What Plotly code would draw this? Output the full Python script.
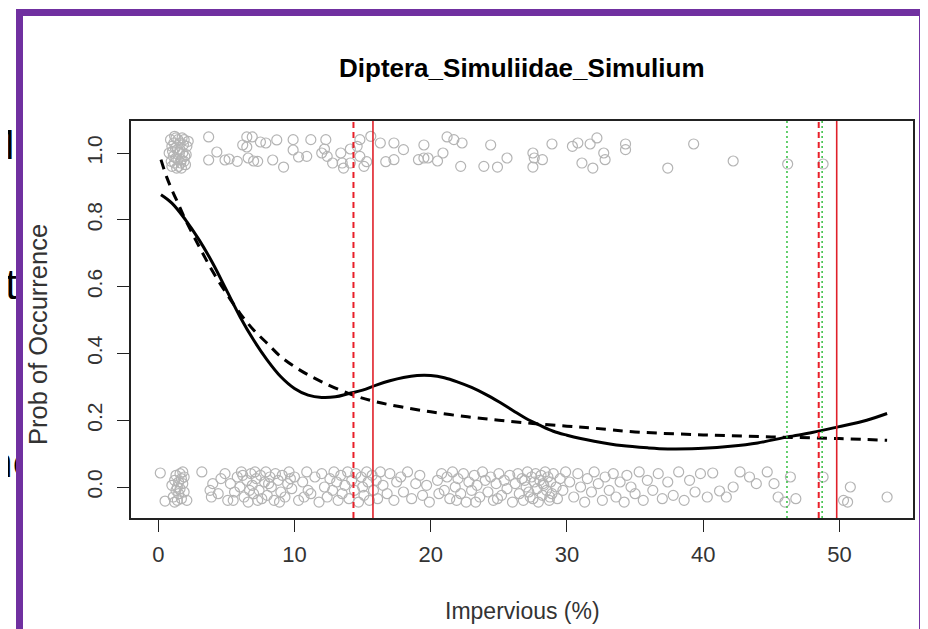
import plotly.graph_objects as go

# The page body has an 8px margin, so the figure is laid out in page pixels minus 8.
OFF = 8
W, H = 928 - OFF, 629 - OFF

# ---------------- data ----------------
title_text = "Diptera_Simuliidae_Simulium"
x_label = "Impervious (%)"
y_label = "Prob of Occurrence"
x_ticks = [0, 10, 20, 30, 40, 50]
y_ticks = [0.0, 0.2, 0.4, 0.6, 0.8, 1.0]

# presence observations (jittered around 1)
pres_x = [0.9, 1.0, 1.1, 1.2, 1.3, 1.4, 1.5, 1.6, 1.7, 1.8, 1.9, 2.0, 2.1, 0.95, 1.15, 1.35, 1.55,
          1.75, 1.95, 1.05, 1.25, 1.45, 1.65, 1.85, 2.05, 1.0, 1.3, 1.6, 1.9, 0.8, 2.2, 1.2, 1.7, 1.45,
          3.7, 4.3, 3.7, 4.9, 5.2, 6.2, 6.5, 6.9, 6.5, 6.6, 7.0, 7.3, 7.5, 7.9, 8.4, 8.7, 9.2, 9.9,
          9.9, 10.3, 10.9, 11.2, 12.3, 12.2, 12.4, 12.8, 13.4, 13.5, 14.1, 14.1, 14.8, 14.8, 15.3,
          15.6, 16.3, 16.7, 17.3, 17.3, 18.0, 19.1, 19.5, 19.5, 19.8, 20.5, 20.9, 21.2, 21.7, 22.3,
          22.2, 23.9, 24.4, 24.9, 25.6, 13.6, 14.6, 15.1, 12.0, 5.8,
          27.5, 27.6, 28.2, 27.5, 28.9, 30.4, 30.8, 31.7, 32.2, 32.7, 32.8, 31.1, 31.9, 34.3, 34.3,
          39.3, 37.4, 42.2, 46.2, 48.8]
pres_y = [1.04, 1.02, 0.99, 0.97, 1.045, 1.01, 0.96, 1.03, 0.98, 1.0, 1.04, 0.965, 1.02, 0.975, 1.03,
          0.955, 1.0, 1.045, 0.99, 1.005, 1.015, 1.04, 0.97, 1.025, 0.995, 0.96, 0.985, 1.01, 0.975,
          1.0, 1.035, 1.05, 0.955, 0.98,
          1.048, 1.003, 0.979, 0.979, 0.982, 1.024, 1.048, 1.048, 1.018, 0.985, 0.976, 0.975, 1.033,
          1.03, 0.979, 1.039, 0.958, 1.04, 1.009, 0.988, 0.99, 1.04, 1.04, 1.012, 0.99, 0.97, 1.0,
          0.97, 1.012, 0.97, 1.04, 0.99, 0.974, 1.05, 1.03, 0.974, 1.03, 0.98, 1.01, 0.98, 1.024,
          0.985, 0.985, 0.976, 1.0, 1.048, 1.04, 1.03, 0.96, 0.96, 1.024, 0.958, 0.985, 0.955, 1.02,
          0.96, 1.0, 0.975,
          1.0, 0.985, 0.98, 0.958, 1.027, 1.02, 1.03, 1.027, 1.045, 1.0, 0.98, 0.97, 0.955, 1.027,
          1.01, 1.027, 0.955, 0.976, 0.967, 0.967]

# absence observations (jittered around 0)
abs_x = [0.15, 0.5, 1.1, 1.2, 1.3, 1.3, 1.4, 1.4, 1.5, 1.5, 1.6, 1.6, 1.7, 1.7, 1.8, 1.8, 1.9, 1.2,
         1.9, 2.1, 1.0,
         3.2, 3.8, 3.9, 4.6, 4.4, 5.1, 5.3, 5.8, 5.6, 6.0, 6.2, 6.3, 6.5, 6.6, 6.8, 6.9, 7.0, 7.1,
         7.2, 7.4, 7.5, 7.6, 7.8, 7.9, 8.0, 8.2, 8.3, 8.5, 8.6, 8.8, 9.0, 9.1, 9.3, 9.5, 9.6, 9.8,
         10.0, 4.0, 4.9, 5.5, 6.1, 6.7, 7.3, 8.1, 8.9, 9.7,
         10.3, 10.6, 10.9, 11.2, 11.5, 11.8, 12.0, 12.2, 12.4, 12.6, 12.8, 12.9, 13.1, 13.2, 13.4,
         13.5, 13.7, 13.9, 14.0, 11.0, 10.7,
         14.2, 14.4, 14.5, 14.7, 14.9, 15.0, 15.1, 15.3, 15.4, 15.5, 15.7, 15.8, 16.0, 16.1, 16.3,
         16.5, 16.8, 17.0, 17.3, 17.5, 17.8, 18.0, 18.3, 18.6, 18.9, 19.2, 19.4, 19.7, 19.9,
         20.5, 20.8, 21.0, 21.2, 21.4, 21.6, 21.8, 22.0, 22.2, 22.4, 22.6, 22.8, 23.0, 23.2, 23.4,
         23.6, 23.8, 24.0, 24.2, 24.4, 24.6, 24.8, 25.0, 25.2, 25.4, 25.6, 25.8, 26.0, 21.9, 23.3,
         24.9, 20.6,
         26.2, 26.4, 26.5, 26.7, 26.8, 27.0, 27.1, 27.2, 27.4, 27.5, 27.6, 27.7, 27.8, 27.9, 28.0,
         28.1, 28.2, 28.3, 28.4, 28.5, 28.6, 28.7, 28.8, 28.9, 29.0, 29.2, 29.3, 29.5, 29.7, 29.9,
         26.9, 27.3, 28.25, 28.75,
         30.2, 30.5, 30.8, 31.0, 31.3, 31.5, 31.8, 32.0, 32.3, 32.6, 32.8, 33.1, 33.4, 33.6, 33.9,
         34.2, 34.4, 34.7, 35.0, 35.3, 35.6, 35.9,
         36.3, 36.7, 37.0, 37.4, 37.8, 38.2, 38.6, 39.0, 39.4, 39.8, 40.3, 40.7, 41.2, 41.7,
         42.2, 42.7, 43.4, 43.9, 44.7, 45.2, 45.5, 46.0, 46.4, 46.8,
         48.8, 50.8, 50.3, 50.6, 53.5]
abs_y = [0.042, -0.042, -0.03, 0.02, -0.01, 0.035, 0.0, -0.04, 0.015, -0.02, 0.04, -0.005, 0.025,
         -0.035, 0.01, 0.045, -0.015, -0.045, 0.03, -0.04, 0.005,
         0.045, -0.01, -0.03, 0.025, -0.02, -0.04, 0.01, 0.03, -0.015, 0.0, 0.035, -0.03, 0.02,
         -0.045, 0.04, 0.005, -0.02, 0.045, 0.025, -0.01, 0.035, -0.035, 0.015, 0.045, -0.025, 0.03,
         0.0, -0.04, 0.04, 0.02, -0.015, 0.035, -0.03, 0.01, 0.045, -0.005, 0.03, 0.01, 0.04, -0.04,
         0.045, -0.01, -0.04, 0.01, -0.045, 0.025,
         -0.04, 0.015, 0.045, -0.02, 0.03, -0.045, 0.04, 0.0, -0.03, 0.025, -0.01, 0.045, 0.015,
         -0.04, 0.035, -0.02, 0.005, 0.045, -0.035, -0.01, -0.03,
         0.02, -0.01, 0.04, -0.045, 0.03, 0.0, -0.025, 0.045, 0.015, -0.04, 0.035, -0.01, 0.02,
         -0.035, 0.045,
         0.005, -0.02, 0.04, -0.04, 0.015, 0.03, -0.015, 0.045, -0.035, 0.01, 0.035, -0.025, 0.005,
         -0.045,
         0.02, 0.04, -0.01, 0.03, -0.035, 0.045, 0.0, 0.025, -0.02, 0.04, -0.045, 0.015, -0.01,
         0.035, 0.005, -0.03, 0.045, 0.02, -0.015, 0.03, -0.04, 0.01, 0.04, -0.025, 0.02, -0.005,
         0.035, -0.045, -0.04, -0.045, -0.035, -0.02,
         0.01, 0.04, -0.02, 0.025, -0.04, 0.0, 0.045, -0.015, 0.03, -0.035, 0.015, 0.04, -0.005,
         -0.045, 0.02, 0.035, -0.025, 0.005, 0.045, -0.01, 0.03, -0.04, 0.015, -0.02, 0.04, 0.0,
         -0.035, 0.025, -0.01, 0.045, 0.02, -0.03, 0.01, -0.03,
         0.015, -0.03, 0.04, 0.0, -0.045, 0.025, -0.015, 0.045, 0.01, -0.04, 0.03, -0.01, 0.04,
         -0.03, 0.015, -0.045, 0.035, 0.0, -0.02, 0.045, -0.04, 0.02,
         -0.01, 0.04, -0.035, 0.015, -0.025, 0.045, -0.04, 0.02, -0.015, 0.04, -0.03, 0.042, -0.012,
         -0.03,
         0.0, 0.045, 0.03, 0.01, 0.045, 0.01, -0.03, -0.045, 0.03, -0.035,
         0.03, 0.0, -0.04, -0.045, -0.03]

# smoothed (GAM) fit - solid curve
gam_x = [0.2, 1, 2, 3, 4, 5, 6, 7, 8, 9, 10, 11, 12, 13, 14, 15, 16, 17, 18, 19, 20, 21, 22, 23,
         24, 25, 26, 27, 28, 29, 30, 31, 32, 34, 36, 37.4, 38, 40, 42, 44, 46.2, 48, 49.9, 52, 53.5]
gam_y = [0.875, 0.85, 0.80, 0.74, 0.67, 0.59, 0.51, 0.44, 0.38, 0.33, 0.295, 0.275, 0.268, 0.27,
         0.28, 0.29, 0.305, 0.318, 0.328, 0.334, 0.334, 0.327, 0.314, 0.298, 0.278, 0.255, 0.23,
         0.205, 0.185, 0.167, 0.155, 0.145, 0.137, 0.124, 0.117, 0.114, 0.114, 0.116, 0.122, 0.132,
         0.15, 0.163, 0.18, 0.2, 0.22]

# logistic (GLM) fit - dashed curve
glm_x = [0.2, 0.6, 1, 1.5, 2, 3, 4, 5, 6, 7, 8, 9, 10.4, 12, 14.3, 16, 17.8, 20, 22.7, 25, 27.5,
         30, 32, 35, 40, 45, 50, 53.5]
glm_y = [0.98, 0.93, 0.89, 0.845, 0.80, 0.72, 0.645, 0.58, 0.52, 0.47, 0.43, 0.39, 0.35, 0.315,
         0.275, 0.255, 0.24, 0.225, 0.21, 0.2, 0.19, 0.182, 0.176, 0.165, 0.156, 0.15, 0.145, 0.14]

# threshold lines
red_dashed_x = [14.33, 48.48]
red_solid_x = [15.76, 49.8]
green_dotted_x = [46.15, 48.73]

# fragments of slide text peeking in at the left edge (page pixels)
slide_text = ["M", "nt", "he"]
slide_text_x = [15, 17, 36]
slide_text_y = [148, 288, 466]

# ---------------- figure ----------------
# plot box in page pixels
L, R, T, B = 131, 913, 121, 518


def px(v):
    return (v - OFF) / W


def py(v):
    return 1 - (v - OFF) / H


fig = go.Figure()

fig.add_trace(go.Scatter(
    x=pres_x + abs_x, y=pres_y + abs_y, mode="markers",
    marker=dict(symbol="circle-open", size=10, color="#b4b4b4", line=dict(width=1.2)),
    showlegend=False, hoverinfo="skip"))

fig.add_trace(go.Scatter(
    x=gam_x, y=gam_y, mode="lines", line=dict(color="black", width=3, shape="spline"),
    showlegend=False))
fig.add_trace(go.Scatter(
    x=glm_x, y=glm_y, mode="lines",
    line=dict(color="black", width=3, dash="10px,7px", shape="spline"),
    showlegend=False))

fig.add_trace(go.Scatter(
    x=[v - OFF for v in slide_text_x], y=[v - OFF for v in slide_text_y], mode="text",
    text=slide_text, textposition="middle left", xaxis="x2", yaxis="y2", cliponaxis=True,
    textfont=dict(family="Liberation Sans, Arial, sans-serif", size=42, color="black"),
    showlegend=False, hoverinfo="skip"))

shapes = []
for xv in red_dashed_x:
    shapes.append(dict(type="line", xref="x", yref="y domain", x0=xv, x1=xv, y0=0, y1=1,
                       line=dict(color="#e8202a", width=2, dash="6px,4px"), layer="above"))
for xv in red_solid_x:
    shapes.append(dict(type="line", xref="x", yref="y domain", x0=xv, x1=xv, y0=0, y1=1,
                       line=dict(color="#e0202a", width=1.6), layer="above"))
for xv in green_dotted_x:
    shapes.append(dict(type="line", xref="x", yref="y domain", x0=xv, x1=xv, y0=0, y1=1,
                       line=dict(color="#33c040", width=1.5, dash="2px,3px"), layer="above"))
# purple slide frame
shapes.append(dict(type="rect", xref="paper", yref="paper",
                   x0=px(19.5), x1=px(922.5), y0=-0.05, y1=py(12.5),
                   line=dict(color="#7030a0", width=7), layer="above"))

font = "Liberation Sans, Arial, sans-serif"
axis_common = dict(showline=True, mirror=True, linecolor="#222", linewidth=1.5,
                   ticks="outside", ticklen=12, tickwidth=1.2, tickcolor="#222",
                   showgrid=False, zeroline=False)

fig.update_layout(
    width=W, height=H, autosize=False,
    margin=dict(l=0, r=0, t=0, b=0),
    paper_bgcolor="white", plot_bgcolor="white",
    xaxis=dict(domain=[px(L), px(R)], range=[-2.0, 55.4], tickvals=x_ticks,
               ticklabelstandoff=4, tickfont=dict(family=font, size=22, color="#333"),
               **axis_common),
    yaxis=dict(domain=[py(B), py(T)], range=[-0.0928, 1.0958], tickvals=y_ticks,
               tickformat=".1f", tickangle=-90, ticklabelstandoff=7,
               tickfont=dict(family=font, size=21, color="#333"), **axis_common),
    xaxis2=dict(domain=[0, 12 / W], range=[0, 12], visible=False),
    yaxis2=dict(domain=[0, 1], range=[H, 0], visible=False, anchor="x2"),
    shapes=shapes,
    annotations=[
        dict(text="<b>" + title_text + "</b>", xref="paper", yref="paper",
             x=px(522), y=py(68), xanchor="center", yanchor="middle", showarrow=False,
             font=dict(family=font, size=26, color="black")),
        dict(text=x_label, xref="paper", yref="paper", x=px(522), y=py(611),
             xanchor="center", yanchor="middle", showarrow=False,
             font=dict(family=font, size=23, color="#333")),
        dict(text=y_label, xref="paper", yref="paper", x=px(38), y=py(335),
             xanchor="center", yanchor="middle", showarrow=False, textangle=-90,
             font=dict(family=font, size=25.5, color="#333")),
    ],
)

fig.write_html("out.html")
